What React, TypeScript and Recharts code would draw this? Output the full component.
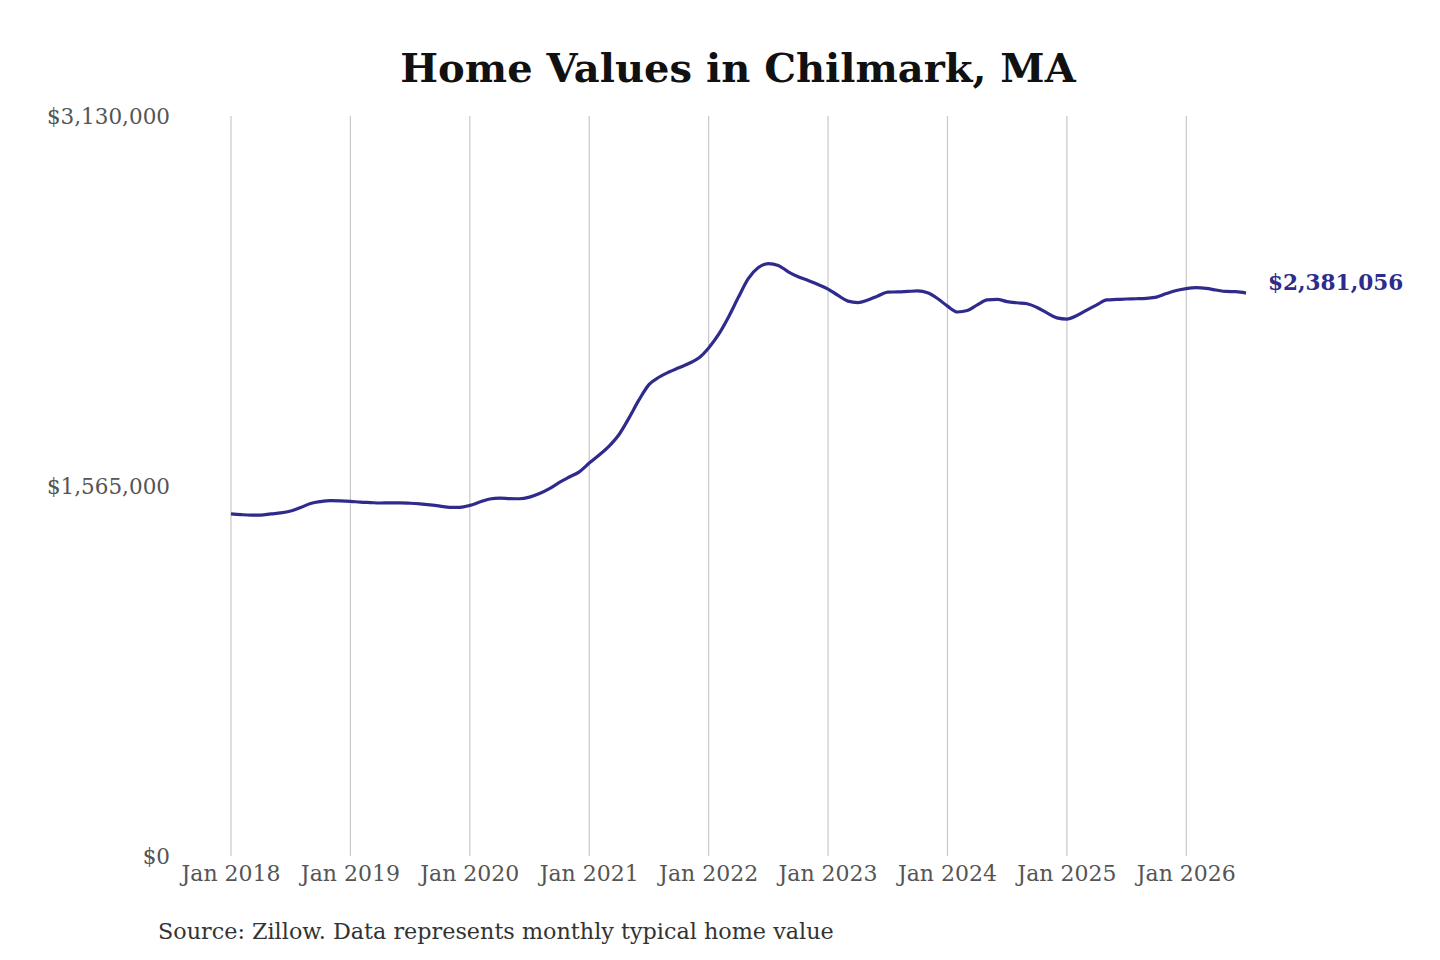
import React from 'react';
import { LineChart, Line, XAxis, YAxis, CartesianGrid } from 'recharts';

const title = 'Home Values in Chilmark, MA';
const sourceNote = 'Source: Zillow. Data represents monthly typical home value';
const startYear = 2018;
const homeValues = [
  1447000, 1444000, 1442000, 1442000, 1447000, 1451000, 1459000, 1474000, 1491000, 1499000, 1503000, 1502000,
  1500000, 1497000, 1495000, 1493000, 1494000, 1494000, 1492000, 1489000, 1485000, 1480000, 1475000, 1475000,
  1483000, 1497000, 1510000, 1514000, 1512000, 1511000, 1518000, 1533000, 1554000, 1580000, 1603000, 1625000,
  1662000, 1696000, 1734000, 1783000, 1853000, 1929000, 1994000, 2025000, 2047000, 2065000, 2083000, 2106000,
  2149000, 2206000, 2280000, 2364000, 2443000, 2489000, 2506000, 2498000, 2471000, 2450000, 2434000, 2417000,
  2398000, 2371000, 2347000, 2341000, 2352000, 2369000, 2385000, 2386000, 2388000, 2390000, 2382000, 2358000,
  2326000, 2301000, 2307000, 2331000, 2352000, 2354000, 2345000, 2340000, 2336000, 2320000, 2297000, 2276000,
  2271000, 2286000, 2309000, 2331000, 2352000, 2354000, 2356000, 2357000, 2359000, 2364000, 2379000, 2392000,
  2400000, 2404000, 2401000, 2394000, 2388000, 2387000, 2381056,
];
const xTickMonths = [0, 12, 24, 36, 48, 60, 72, 84, 96];
const xTickLabels = ['Jan 2018', 'Jan 2019', 'Jan 2020', 'Jan 2021', 'Jan 2022', 'Jan 2023', 'Jan 2024', 'Jan 2025', 'Jan 2026'];
const yTicks = [0, 1565000, 3130000];
const yTickLabels = ['$0', '$1,565,000', '$3,130,000'];

const data = homeValues.map((v, i) => ({ m: i, value: v }));

const FONT = '"DejaVu Serif", serif';
const LINE_COLOR = '#2e2b8c';

const EndLabel = (props: any) => {
  const { x, y, index, value } = props;
  if (index !== homeValues.length - 1) return null;
  return (
    <text x={x + 22} y={y} dy={-9} fill={LINE_COLOR} fontFamily={FONT} fontWeight="bold" fontSize={21.6} dominantBaseline="middle">
      {'$' + Number(value).toLocaleString('en-US')}
    </text>
  );
};

export default function App() {
  return (
    <div style={{ position: 'absolute', left: 0, top: 0, width: 1440, height: 960, background: '#fff' }}>
      <div style={{ position: 'absolute', left: 0, width: 1476, top: 43, textAlign: 'center', fontFamily: FONT, fontWeight: 'bold', fontSize: 40, color: '#111', lineHeight: '50px' }}>
        {title}
      </div>
      <LineChart width={1440} height={960} data={data} margin={{ top: 116, right: 194, bottom: 74, left: 151 }}>
        <CartesianGrid vertical horizontal={false} stroke="#c8c8c8" strokeWidth={1.2} verticalValues={xTickMonths} />
        <XAxis
          dataKey="m"
          type="number"
          domain={[0, 102]}
          ticks={xTickMonths}
          tickFormatter={(m: number) => xTickLabels[xTickMonths.indexOf(m)]}
          axisLine={false}
          tickLine={false}
          tickSize={0}
          tickMargin={9}
          height={30}
          tick={{ fill: '#555', fontFamily: FONT, fontSize: 22 }}
          interval={0}
        />
        <YAxis
          type="number"
          domain={[0, 3130000]}
          ticks={yTicks}
          tickFormatter={(v: number) => yTickLabels[yTicks.indexOf(v)]}
          axisLine={false}
          tickLine={false}
          tickSize={0}
          tickMargin={61}
          width={80}
          tick={{ fill: '#555', fontFamily: FONT, fontSize: 21.5 }}
          interval={0}
        />
        <Line
          type="monotone"
          dataKey="value"
          stroke={LINE_COLOR}
          strokeWidth={3.2}
          dot={false}
          isAnimationActive={false}
          label={<EndLabel />}
        />
      </LineChart>
      <div style={{ position: 'absolute', left: 158, top: 916, fontFamily: FONT, fontSize: 22.3, color: '#333', lineHeight: '30px', whiteSpace: 'nowrap' }}>
        {sourceNote}
      </div>
    </div>
  );
}
